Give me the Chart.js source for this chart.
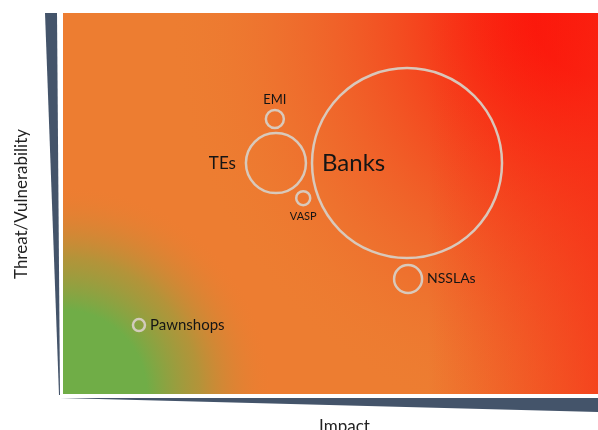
<!DOCTYPE html>
<html><head><meta charset="utf-8">
<script src="https://cdn.jsdelivr.net/npm/chart.js@4.4.0/dist/chart.umd.min.js"></script>
<style>html,body{margin:0;padding:0;background:#fff;}#wrap{width:598px;height:430px;}</style>
</head><body><div id="wrap"><canvas id="c"></canvas></div>
<script>
const categories = ["Banks", "TEs", "EMI", "VASP", "NSSLAs", "Pawnshops"];
const impactValues = [64.3, 39.8, 39.6, 44.9, 64.5, 14.2];
const threatValues = [60.6, 60.6, 72.2, 51.4, 30.2, 18.1];
const bubbleSizes = [95, 30, 9, 7, 14, 6];
const labelPlacement = ["inside", "left", "top", "bottom", "right", "right"];
const labelFontSizes = [24, 17, 13, 11, 14, 15];
const axisTitles = { x: "Impact", y: "Threat/Vulnerability" };

const FONT = "Lato, 'Noto Sans', sans-serif";

const bgPlugin = {
  id: 'bg',
  beforeDatasetsDraw(chart) {
    const { ctx, chartArea: a } = chart;
    const W = a.right - a.left, H = a.bottom - a.top;
    ctx.save();
    ctx.beginPath(); ctx.rect(a.left, a.top, W, H); ctx.clip();
    ctx.fillStyle = '#ED7D31';
    ctx.fillRect(a.left, a.top, W, H);
    // red top-right
    let g = ctx.createRadialGradient(a.right, a.top, 0, a.right, a.top, 430);
    g.addColorStop(0, 'rgba(255,0,0,1)');
    g.addColorStop(0.15, 'rgba(255,5,3,0.97)');
    g.addColorStop(0.45, 'rgba(248,40,20,0.6)');
    g.addColorStop(0.75, 'rgba(242,70,35,0.22)');
    g.addColorStop(1, 'rgba(237,125,49,0)');
    ctx.fillStyle = g;
    ctx.fillRect(a.left, a.top, W, H);
    // red tint along right edge
    let g3 = ctx.createLinearGradient(a.right - 170, 0, a.right, 0);
    g3.addColorStop(0, 'rgba(248,45,22,0)');
    g3.addColorStop(1, 'rgba(248,45,22,0.7)');
    ctx.fillStyle = g3;
    ctx.fillRect(a.left, a.top, W, H);
    // green bottom-left
    let g2 = ctx.createRadialGradient(a.left, a.bottom, 0, a.left, a.bottom, 210);
    g2.addColorStop(0, 'rgba(112,173,71,1)');
    g2.addColorStop(0.4, 'rgba(112,173,71,1)');
    g2.addColorStop(0.65, 'rgba(160,155,60,0.75)');
    g2.addColorStop(1, 'rgba(237,125,49,0)');
    ctx.fillStyle = g2;
    ctx.fillRect(a.left, a.top, W, H);
    ctx.restore();
  },
  afterDraw(chart) {
    const { ctx, chartArea: a } = chart;
    ctx.save();
    ctx.fillStyle = '#44546A';
    // left wedge
    ctx.beginPath();
    ctx.moveTo(a.left - 18, a.top);
    ctx.lineTo(a.left - 6, a.top);
    ctx.lineTo(a.left - 3, a.bottom + 1);
    ctx.lineTo(a.left - 4, a.bottom + 1);
    ctx.closePath(); ctx.fill();
    // bottom wedge
    ctx.beginPath();
    ctx.moveTo(a.left - 3, a.bottom + 4);
    ctx.lineTo(a.right, a.bottom + 4);
    ctx.lineTo(a.right, a.bottom + 18);
    ctx.closePath(); ctx.fill();
    // axis titles
    ctx.fillStyle = '#222';
    ctx.font = '17px ' + FONT;
    ctx.textAlign = 'center'; ctx.textBaseline = 'middle';
    ctx.fillText(axisTitles.x, (a.left + a.right) / 2 + 14, a.bottom + 33);
    ctx.translate(22, 204);
    ctx.rotate(-Math.PI / 2);
    ctx.fillText(axisTitles.y, 0, 0);
    ctx.restore();
    // bubble labels
    const meta = chart.getDatasetMeta(0);
    ctx.save();
    ctx.fillStyle = '#151515';
    meta.data.forEach((el, i) => {
      const r = bubbleSizes[i];
      ctx.font = labelFontSizes[i] + 'px ' + FONT;
      ctx.textBaseline = 'middle';
      let x = el.x, y = el.y;
      switch (labelPlacement[i]) {
        case 'inside': ctx.textAlign = 'left'; x = el.x - r + 10; break;
        case 'left': ctx.textAlign = 'right'; x = el.x - r - 10; break;
        case 'right': ctx.textAlign = 'left'; x = el.x + r + 5; break;
        case 'top': ctx.textAlign = 'center'; y = el.y - r - 10; break;
        case 'bottom': ctx.textAlign = 'center'; y = el.y + r + 11; break;
      }
      ctx.fillText(categories[i], x, y);
    });
    ctx.restore();
  }
};

new Chart(document.getElementById('c'), {
  type: 'bubble',
  data: {
    datasets: [{
      data: categories.map((c, i) => ({ x: impactValues[i], y: threatValues[i], r: bubbleSizes[i] })),
      backgroundColor: 'rgba(0,0,0,0)',
      borderColor: 'rgba(215,205,195,0.95)',
      borderWidth: 2.5,
      hoverRadius: 0,
      clip: false
    }]
  },
  options: {
    responsive: true, maintainAspectRatio: false, animation: false,
    layout: { autoPadding: false, padding: { left: 63, top: 13, right: 0, bottom: 36 } },
    plugins: { legend: { display: false }, tooltip: { enabled: false } },
    scales: {
      x: { min: 0, max: 100, display: false },
      y: { min: 0, max: 100, display: false }
    }
  },
  plugins: [bgPlugin]
});
</script>
</body></html>
